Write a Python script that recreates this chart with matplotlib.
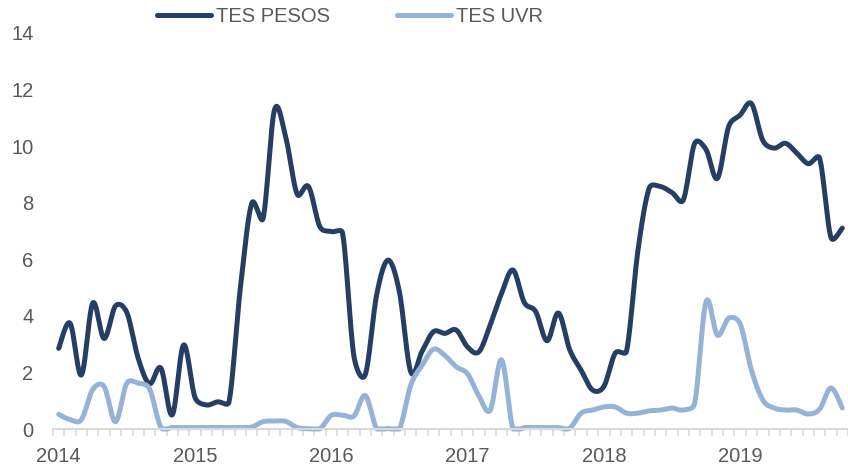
import numpy as np
import matplotlib
matplotlib.use("Agg")
import matplotlib.pyplot as plt

plt.rcParams['font.family'] = ['Liberation Sans', 'DejaVu Sans']

# monthly values, Jan 2014 - Oct 2019
tes_pesos = [2.85, 3.74, 1.91, 4.45, 3.2, 4.35, 4.12, 2.5, 1.6, 2.15,
             0.5, 2.97, 1.12, 0.85, 0.96, 0.96, 5.0, 7.98, 7.45, 11.28,
             10.3, 8.3, 8.57, 7.15, 6.98, 6.92, 2.56, 1.93, 4.75, 5.97,
             4.85, 2.02, 2.75, 3.44, 3.38, 3.5, 2.9, 2.73, 3.68, 4.8,
             5.62, 4.47, 4.15, 3.12, 4.1, 2.8, 2.08, 1.38, 1.5, 2.68,
             2.75, 6.3, 8.52, 8.57, 8.36, 8.1, 10.1, 9.88, 8.86, 10.7,
             11.1, 11.5, 10.2, 9.93, 10.1, 9.75, 9.38, 9.57, 6.77, 7.1]
tes_uvr = [0.52, 0.33, 0.33, 1.4, 1.5, 0.26, 1.62, 1.62, 1.42, 0.06,
           0.05, 0.05, 0.05, 0.05, 0.05, 0.05, 0.05, 0.07, 0.26, 0.28,
           0.27, 0.05, 0.01, 0.01, 0.48, 0.49, 0.46, 1.18, 0.01, 0.02,
           0.0, 1.55, 2.25, 2.82, 2.6, 2.2, 1.95, 1.17, 0.67, 2.44,
           0.0, 0.05, 0.05, 0.05, 0.05, 0.03, 0.56, 0.67, 0.78, 0.78,
           0.56, 0.56, 0.64, 0.67, 0.74, 0.67, 0.91, 4.5, 3.32, 3.92,
           3.72, 2.08, 1.02, 0.74, 0.67, 0.67, 0.53, 0.7, 1.45, 0.74]
years = ['2014', '2015', '2016', '2017', '2018', '2019']
series_names = ['TES PESOS', 'TES UVR']

XPX, YPX = 11.41, 28.3   # pixels per month / per unit, only for the smoothing


def smooth(y, steps=24, limit=0.5):
    # excel-like smoothed line: bezier through the points,
    # control arms shortened on short segments to avoid overshoot
    y = np.asarray(y, dtype=float)
    n = len(y)
    x = np.arange(n, dtype=float)
    pts = np.column_stack([x * XPX, y * YPX])
    ext = np.vstack([pts[0], pts, pts[-1]])
    t = np.linspace(0, 1, steps)[:, None]
    out = []
    for i in range(1, n):
        p0, p1, p2, p3 = ext[i - 1], ext[i], ext[i + 1], ext[i + 2]
        seg = np.hypot(*(p2 - p1))
        a = (p2 - p0) / 6
        b = (p3 - p1) / 6
        la, lb = np.hypot(*a), np.hypot(*b)
        if la > limit * seg:
            a = a * limit * seg / la
        if lb > limit * seg:
            b = b * limit * seg / lb
        c1, c2 = p1 + a, p2 - b
        bez = (1 - t) ** 3 * p1 + 3 * (1 - t) ** 2 * t * c1 + 3 * (1 - t) * t ** 2 * c2 + t ** 3 * p2
        out.append(bez)
    out = np.vstack(out)
    return out[:, 0] / XPX, np.maximum(out[:, 1] / YPX, 0)


fig = plt.figure(figsize=(8.48, 4.69), dpi=100)
ax = fig.add_axes([53 / 848, 40 / 469, 795 / 848, 396 / 469])

colors = ['#243F63', '#95B3D7']
lines = []
for vals, name, c in zip([tes_pesos, tes_uvr], series_names, colors):
    sx, sy = smooth(vals)
    ln, = ax.plot(sx, sy, color=c, lw=3.6, label=name, clip_on=False,
                  solid_capstyle='round', solid_joinstyle='round')
    lines.append(ln)

ax.set_ylim(0, 14)
ax.set_xlim(-0.5, len(tes_pesos) - 0.83)
ax.set_yticks(range(0, 15, 2))
ax.set_xticks(range(0, 12 * len(years), 12))
ax.set_xticklabels(years)
ax.set_xticks(np.arange(-0.5, len(tes_pesos), 1), minor=True)

for s in ['top', 'right', 'left']:
    ax.spines[s].set_visible(False)
ax.spines['bottom'].set_color('#D9D9D9')
ax.spines['bottom'].set_linewidth(1.5)

ax.tick_params(axis='y', length=0, pad=14, labelsize=14.5, labelcolor='#595959')
ax.tick_params(axis='x', which='major', length=0, pad=13, labelsize=14.5, labelcolor='#595959')
ax.tick_params(axis='x', which='minor', length=5, width=1.2, color='#D9D9D9')

fig.legend(handles=lines, loc='center', bbox_to_anchor=(350 / 848, 1 - 17 / 469),
           ncol=2, frameon=False, fontsize=14.5, handlelength=2.7,
           handletextpad=0.25, columnspacing=3.3, labelcolor='#595959')

fig.savefig('out.png', dpi=100)
